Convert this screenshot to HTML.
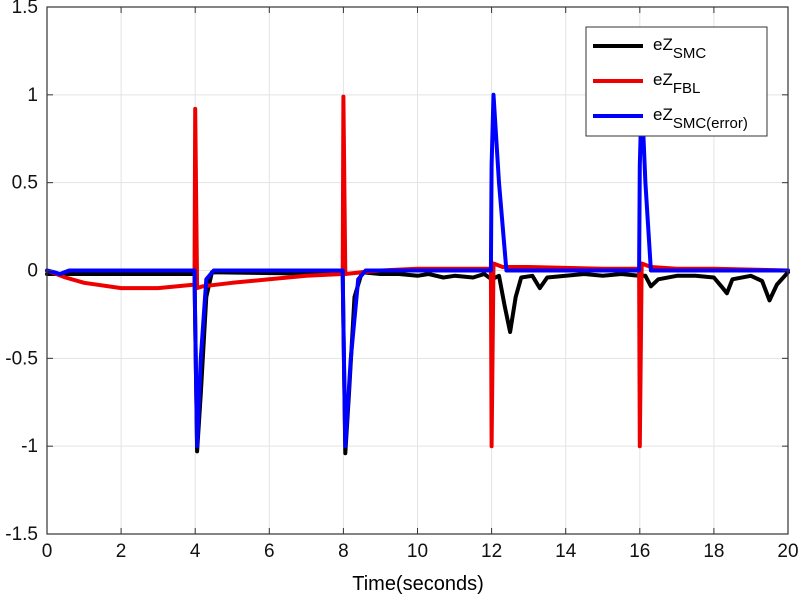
<!DOCTYPE html>
<html><head><meta charset="utf-8"><style>
body{margin:0;background:#fff;width:800px;height:600px;overflow:hidden;font-family:"Liberation Sans",sans-serif}
</style></head><body>
<svg id="chart" width="800" height="600" xmlns="http://www.w3.org/2000/svg">
<rect width="800" height="600" fill="#fff"/>
<g id="grid"></g><g id="series"></g><g id="axes"></g>
<g>
<rect x="586" y="27" width="181" height="109" fill="#fff" stroke="#333" stroke-width="1"/>
<line x1="593" y1="46" x2="643" y2="46" stroke="#000" stroke-width="4"/>
<text x="653" y="50" font-size="17">eZ<tspan font-size="15" dy="8">SMC</tspan></text>
<line x1="593" y1="81" x2="643" y2="81" stroke="#e00" stroke-width="4"/>
<text x="653" y="85" font-size="17">eZ<tspan font-size="15" dy="8">FBL</tspan></text>
<line x1="593" y1="116" x2="643" y2="116" stroke="#00f" stroke-width="4"/>
<text x="653" y="120" font-size="17">eZ<tspan font-size="15" dy="8">SMC(error)</tspan></text>
</g>
<text x="418" y="590" font-size="20" text-anchor="middle">Time(seconds)</text>
</svg>
<script>
const xTicks=[0,2,4,6,8,10,12,14,16,18,20];
const yTicks=[-1.5,-1,-0.5,0,0.5,1,1.5];
const yTickLabels=["-1.5","-1","-0.5","0","0.5","1","1.5"];
const smcT=[0,3.98,4.0,4.05,4.15,4.3,4.45,7.98,8.0,8.05,8.15,8.3,8.5,9,9.5,10,10.3,10.7,11,11.5,11.8,12,12.2,12.35,12.5,12.65,12.8,13.1,13.3,13.5,14,14.5,15,15.5,16,16.15,16.3,16.5,17,17.5,18,18.2,18.35,18.5,19,19.3,19.5,19.7,20];
const smcV=[-0.02,-0.02,-0.3,-1.03,-0.7,-0.15,-0.01,-0.02,-0.3,-1.04,-0.7,-0.15,-0.01,-0.02,-0.02,-0.03,-0.02,-0.04,-0.03,-0.04,-0.02,-0.05,-0.03,-0.2,-0.35,-0.15,-0.04,-0.03,-0.1,-0.04,-0.03,-0.02,-0.03,-0.02,-0.03,-0.03,-0.09,-0.05,-0.03,-0.03,-0.04,-0.09,-0.13,-0.05,-0.03,-0.06,-0.17,-0.08,-0.01];
const fblT=[0,0.5,1,2,3,3.98,4.0,4.05,4.2,5,6,7,7.98,8.0,8.05,8.5,9,10,10.5,11,11.98,12.0,12.05,12.3,13,15,15.98,16.0,16.05,16.3,17,18,20];
const fblV=[0,-0.04,-0.07,-0.1,-0.1,-0.08,0.92,-0.1,-0.09,-0.07,-0.05,-0.03,-0.02,0.99,-0.02,-0.01,0,0.01,0.01,0.01,0.01,-1,0.04,0.02,0.02,0.01,0.01,-1,0.04,0.02,0.01,0.01,0];
const errT=[0,0.2,0.35,0.6,3.98,4.0,4.05,4.15,4.3,4.5,7.98,8.0,8.05,8.2,8.4,8.6,11.98,12.0,12.05,12.2,12.4,15.98,16.0,16.05,16.15,16.3,20];
const errV=[0,-0.01,-0.02,0,0,-0.3,-1.0,-0.5,-0.05,0,0,-0.3,-1.0,-0.5,-0.05,0,0,0.6,1.0,0.5,0,0,0.6,1.0,0.5,0,0];
const X0=47,X1=788,Y0=534,Y1=7;
const sx=v=>X0+(v-0)/(20-0)*(X1-X0);
const sy=v=>Y0-(v+1.5)/3*(Y0-Y1);
const NS="http://www.w3.org/2000/svg";
function mk(tag,attrs,parent){const e=document.createElementNS(NS,tag);for(const k in attrs)e.setAttribute(k,attrs[k]);parent.appendChild(e);return e;}
const grid=document.getElementById('grid'),axes=document.getElementById('axes'),ser=document.getElementById('series');
xTicks.forEach((t,i)=>{
 const g=mk('line',{x1:sx(t),x2:sx(t),y1:Y1,y2:Y0,stroke:'#e3e3e3','stroke-width':1},grid);
 
 
 mk('line',{x1:sx(t),x2:sx(t),y1:Y0,y2:Y0-6,stroke:'#333'},axes);
 mk('line',{x1:sx(t),x2:sx(t),y1:Y1,y2:Y1+6,stroke:'#333'},axes);
 const tx=mk('text',{x:sx(t),y:557,'font-size':19,'text-anchor':'middle',fill:'#111'},axes);
 tx.textContent=String(t);
 
 
});
yTicks.forEach((t,i)=>{
 const g=mk('line',{x1:X0,x2:X1,y1:sy(t),y2:sy(t),stroke:'#e3e3e3','stroke-width':1},grid);
 
 
 mk('line',{x1:X0,x2:X0+6,y1:sy(t),y2:sy(t),stroke:'#333'},axes);
 mk('line',{x1:X1,x2:X1-6,y1:sy(t),y2:sy(t),stroke:'#333'},axes);
 const tx=mk('text',{x:38,y:sy(t)+6,'font-size':19,'text-anchor':'end',fill:'#111'},axes);
 tx.textContent=yTickLabels[i];
 
 
});
const fr=mk('rect',{x:X0,y:Y1,width:X1-X0,height:Y0-Y1,fill:'none',stroke:'#333','stroke-width':1.2},axes);


function line(T,V,color,name){
 const d=T.map((t,i)=>(i?'L':'M')+sx(t).toFixed(1)+','+sy(V[i]).toFixed(1)).join('');
 const p=mk('path',{d:d,fill:'none',stroke:color,'stroke-width':4,'stroke-linejoin':'round','stroke-linecap':'round'},ser);
 
 
}
line(smcT,smcV,'#000','series-ez-smc');
line(fblT,fblV,'#e00','series-ez-fbl');
line(errT,errV,'#00f','series-ez-smc-error');
</script>
</body></html>
